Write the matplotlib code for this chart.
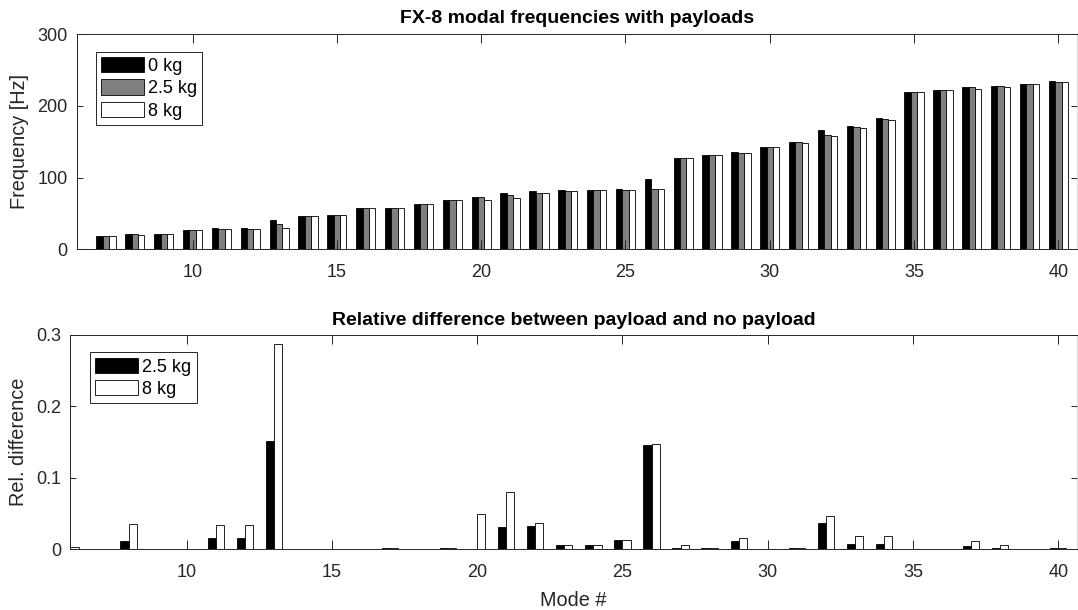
import numpy as np
import matplotlib
matplotlib.use("Agg")
import matplotlib.pyplot as plt

plt.rcParams['font.family'] = ['Liberation Sans', 'DejaVu Sans']

# Mode numbers (mode 6 sits on the left edge of the axes)
modes = np.arange(6, 41)

# Natural frequencies [Hz] for each payload case
f_0kg = [0.0, 19.1, 21.4, 21.4, 27.0, 29.3, 29.3, 40.9, 47.0, 47.4,
         57.2, 58.1, 63.3, 68.4, 72.6, 78.6, 81.9, 82.3, 82.8, 83.7,
         98.1, 127.9, 131.2, 136.3, 143.3, 149.3, 166.0, 172.1, 183.2, 219.1,
         221.9, 227.0, 228.4, 230.7, 234.4]
f_2p5kg = [0.0, 19.1, 21.15, 21.4, 27.0, 28.85, 28.85, 34.8, 47.0, 47.4,
           57.2, 58.0, 63.3, 68.3, 72.6, 76.2, 79.2, 81.8, 82.3, 82.6,
           83.8, 127.6, 131.0, 134.7, 143.3, 149.1, 160.0, 170.9, 181.9, 219.0,
           221.8, 226.0, 227.9, 230.6, 234.1]
f_8kg = [0.0, 19.1, 20.65, 21.4, 27.0, 28.3, 28.3, 29.1, 47.0, 47.4,
         57.2, 58.0, 63.3, 68.3, 69.1, 72.2, 78.9, 81.8, 82.3, 82.6,
         83.7, 127.2, 130.9, 134.1, 143.3, 149.0, 158.3, 169.0, 179.9, 219.0,
         221.8, 224.3, 227.1, 230.6, 234.1]

# Relative frequency drop with respect to the unloaded structure
rel_2p5kg = [0.003, 0.0005, 0.0116, 0.0005, 0.0005, 0.0153, 0.0153, 0.151, 0.0005, 0.0005,
             0.0005, 0.0012, 0.0005, 0.0012, 0.0003, 0.0312, 0.033, 0.0056, 0.0056, 0.0135,
             0.146, 0.0023, 0.0012, 0.0121, 0.0005, 0.0012, 0.0363, 0.007, 0.007, 0.0005,
             0.0005, 0.0042, 0.0023, 0.0005, 0.0012]
rel_8kg = [0.003, 0.0005, 0.0349, 0.0005, 0.0008, 0.0335, 0.0335, 0.288, 0.0005, 0.0005,
           0.0005, 0.0018, 0.0005, 0.0018, 0.0488, 0.0809, 0.0372, 0.0056, 0.0056, 0.0135,
           0.147, 0.0056, 0.0023, 0.0158, 0.0005, 0.0018, 0.0465, 0.0181, 0.0181, 0.0005,
           0.0005, 0.0121, 0.0056, 0.0005, 0.0012]

freq_labels = ['0 kg', '2.5 kg', '8 kg']
rel_labels = ['2.5 kg', '8 kg']
x_ticks = [10, 15, 20, 25, 30, 35, 40]

AX_GRAY = '#262626'
W, H = 1078, 610

fig = plt.figure(figsize=(W / 100, H / 100), dpi=100)
ax1 = fig.add_axes([76.7 / W, 1 - 249.3 / H, (1077 - 76.7) / W, 215.0 / H])
ax2 = fig.add_axes([70.0 / W, 1 - 549.3 / H, (1077 - 70.0) / W, 214.3 / H])


def style_axes(ax):
    for side in ['left', 'top', 'bottom']:
        ax.spines[side].set_color(AX_GRAY)
        ax.spines[side].set_linewidth(0.7)
    ax.spines['right'].set_color('#bdbdbd')
    ax.spines['right'].set_linewidth(0.4)
    ax.tick_params(axis='both', direction='in', colors=AX_GRAY, labelsize=13,
                   width=0.7, top=True, right=True)
    ax.tick_params(axis='x', length=6.5, pad=10.5)
    ax.tick_params(axis='y', length=4.5, pad=6.5)
    ax.set_xticks(x_ticks)
    ax.set_xlim(5.985, 40.645)


# Top panel: grouped frequencies
bw = 0.222
x = modes.astype(float)
for k, (vals, col) in enumerate(zip([f_0kg, f_2p5kg, f_8kg],
                                     ['black', '#808080', 'white'])):
    ax1.bar(x + (k - 1) * bw, vals, width=bw, color=col,
            edgecolor='black', linewidth=0.6, label=freq_labels[k])
style_axes(ax1)
ax1.set_ylim(0, 300)
ax1.set_yticks([0, 100, 200, 300])
ax1.set_title('FX-8 modal frequencies with payloads', fontsize=14,
              fontweight='bold', pad=8)
ax1.set_ylabel('Frequency [Hz]', fontsize=14.3, color=AX_GRAY, va='center')
ax1.yaxis.set_label_coords((20 - 76.7) / (1077 - 76.7), 0.5)

# Bottom panel: relative differences
bw2 = 0.28
for k, (vals, col) in enumerate(zip([rel_2p5kg, rel_8kg], ['black', 'white'])):
    ax2.bar(x + (k - 0.5) * bw2, vals, width=bw2, color=col,
            edgecolor='black', linewidth=0.6, label=rel_labels[k])
style_axes(ax2)
ax2.set_ylim(0, 0.3)
ax2.set_yticks([0, 0.1, 0.2, 0.3])
ax2.set_yticklabels(['0', '0.1', '0.2', '0.3'])
ax2.set_title('Relative difference between payload and no payload', fontsize=14,
              fontweight='bold', pad=7)
ax2.set_ylabel('Rel. difference', fontsize=14.3, color=AX_GRAY, va='center')
ax2.yaxis.set_label_coords((18.7 - 70) / (1077 - 70), 0.5)
ax2.set_xlabel('Mode #', fontsize=14.3, color=AX_GRAY, labelpad=7)

legend_kw = dict(loc='upper left', fontsize=13, handlelength=2.36,
                 handleheight=0.92, handletextpad=0.22, labelspacing=0.25,
                 borderpad=0.3, borderaxespad=0, fancybox=False, framealpha=1,
                 edgecolor=AX_GRAY)
leg1 = ax1.legend(bbox_to_anchor=((95.7 - 76.7) / (1077 - 76.7), (249.3 - 51.7) / 215.0),
                  **legend_kw)
leg2 = ax2.legend(bbox_to_anchor=((90 - 70) / (1077 - 70), (549.3 - 352.3) / 214.3),
                  **legend_kw)
for leg in (leg1, leg2):
    leg.get_frame().set_linewidth(0.7)

fig.savefig('out.png', dpi=100)
